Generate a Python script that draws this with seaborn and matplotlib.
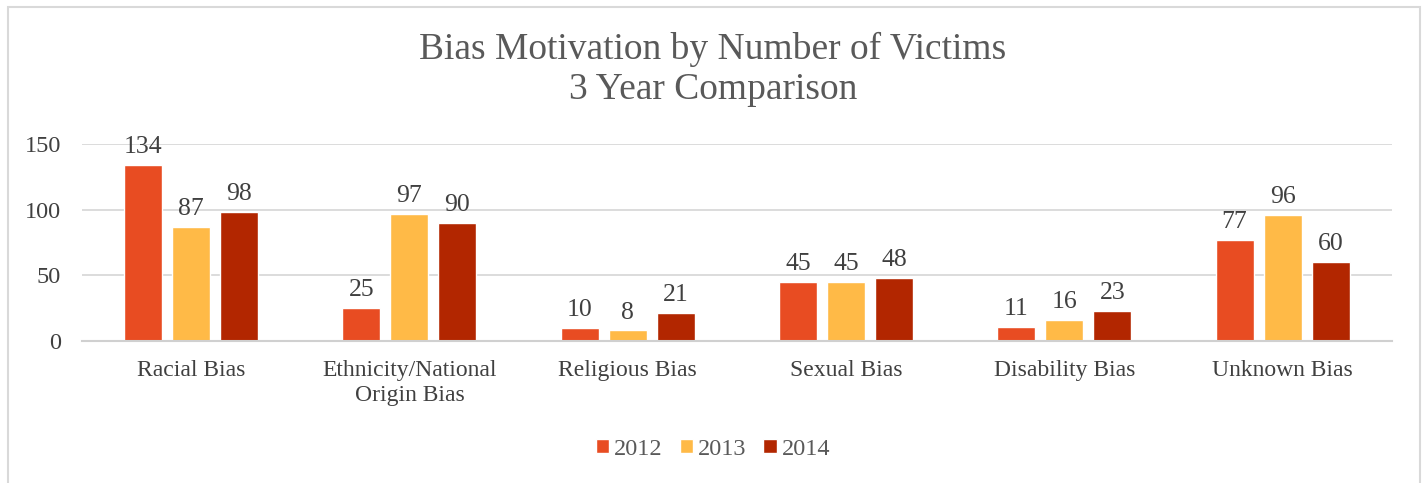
import pandas as pd
import seaborn as sns
import matplotlib.pyplot as plt
from matplotlib.patches import Rectangle

categories = ['Racial Bias', 'Ethnicity/National\nOrigin Bias', 'Religious Bias',
              'Sexual Bias', 'Disability Bias', 'Unknown Bias']
years = ['2012', '2013', '2014']
v2012 = [134, 25, 10, 45, 11, 77]
v2013 = [87, 97, 8, 45, 16, 96]
v2014 = [98, 90, 21, 48, 23, 60]

df = pd.DataFrame({
    'Category': categories * 3,
    'Year': [y for y in years for _ in categories],
    'Victims': v2012 + v2013 + v2014,
})

sns.set_style('white')
plt.rcParams['font.family'] = ['Liberation Serif', 'DejaVu Serif']

fig = plt.figure(figsize=(14.26, 4.83), dpi=100)
ax = fig.add_axes([0.0575, 0.294, 0.9185, 0.408])

palette = {'2012': '#E84C22', '2013': '#FFBA47', '2014': '#B22600'}
sns.barplot(data=df, x='Category', y='Victims', hue='Year', palette=palette,
            width=0.66, gap=0.21, ax=ax, saturation=1)

for c in ax.containers:
    ax.bar_label(c, padding=5, fontsize=18.5, color='#404040')

ax.set_ylim(0, 150)
ax.set_yticks([0, 50, 100, 150])
ax.grid(axis='y', color='#d9d9d9', linewidth=1.3)
ax.set_axisbelow(True)
for s in ['top', 'right', 'left']:
    ax.spines[s].set_visible(False)
ax.spines['bottom'].set_color('#d0d0d0')
ax.spines['bottom'].set_linewidth(1.5)
ax.tick_params(axis='both', length=0, labelcolor='#404040')
ax.tick_params(axis='y', pad=15, labelsize=17.5)
ax.tick_params(axis='x', pad=14, labelsize=17)
ax.set_xlabel('')
ax.set_ylabel('')

fig.suptitle('Bias Motivation by Number of Victims\n3 Year Comparison',
             y=0.935, fontsize=27, color='#595959', linespacing=1.22)

ax.legend(loc='center', bbox_to_anchor=(0.5, 0.07), bbox_transform=fig.transFigure,
          ncol=3, frameon=False, fontsize=17.5, handlelength=0.55, handleheight=0.55,
          handletextpad=0.2, columnspacing=0.7, labelcolor='#595959')

fig.patches.append(Rectangle((0.0056, -0.05), 0.9902, 1.036, transform=fig.transFigure,
                             fill=False, edgecolor='#d9d9d9', linewidth=1.5))

plt.savefig('out.png', dpi=100)
